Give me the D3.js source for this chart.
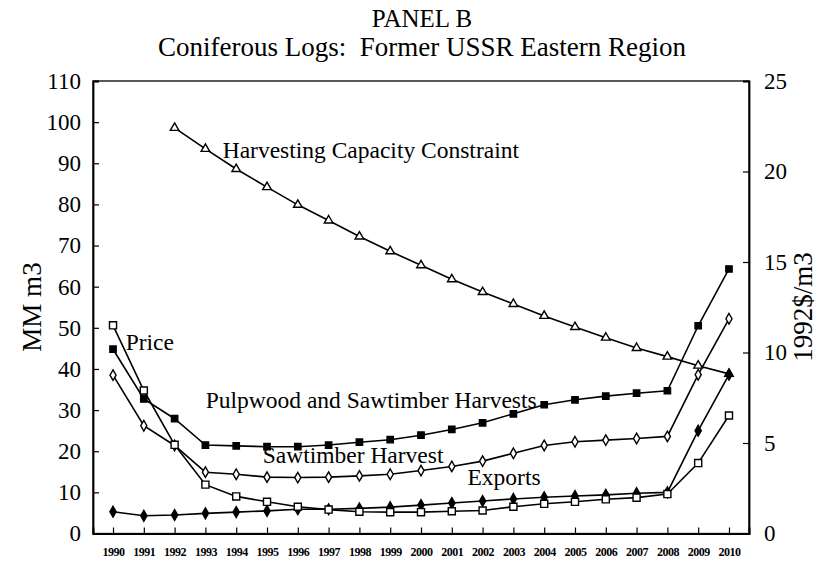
<!DOCTYPE html>
<html>
<head>
<meta charset="utf-8">
<script src="https://cdn.jsdelivr.net/npm/d3@7"></script>
<style>
  body { margin: 0; background: #fff; }
  svg { display: block; }
  .serif { font-family: "Liberation Serif", "Times New Roman", serif; fill: #000; }
  .tick text { font-family: "Liberation Serif", serif; fill: #000; }
  .xaxis .tick text { font-weight: bold; }
</style>
</head>
<body>
<svg id="chart" width="830" height="564"></svg>
<script>
// years on the x axis
var years = d3.range(1990, 2011);

// MM m3 (left axis)
var capacityYears = d3.range(1992, 2011);
var capacity = [98.6, 93.5, 88.6, 84.2, 79.9, 76.1, 72.2, 68.6, 65.2, 61.8,
                58.7, 55.8, 52.9, 50.2, 47.6, 45.1, 43.0, 40.8, 38.8];
var pulpSaw = [44.8, 32.7, 27.9, 21.5, 21.3, 21.1, 21.1, 21.5, 22.2, 22.8, 23.9,
               25.3, 26.9, 29.1, 31.3, 32.5, 33.4, 34.1, 34.7, 50.5, 64.3];
var sawtimber = [38.5, 26.2, 21.4, 14.9, 14.4, 13.7, 13.6, 13.7, 14.0, 14.4, 15.3,
                 16.3, 17.6, 19.5, 21.4, 22.3, 22.7, 23.1, 23.6, 38.6, 52.2];
var exportsMM = [5.3, 4.3, 4.5, 4.9, 5.2, 5.5, 5.9, 5.9, 6.1, 6.4, 6.9,
                 7.4, 7.9, 8.4, 8.8, 9.1, 9.4, 9.8, 10.0, 25.0, 38.6];

// 1992$/m3 (right axis)
var price = [11.5, 7.9, 4.9, 2.7, 2.05, 1.75, 1.48, 1.32, 1.2, 1.18, 1.18,
             1.23, 1.27, 1.48, 1.64, 1.75, 1.89, 1.98, 2.18, 3.89, 6.52];

var leftTicks = d3.range(0, 111, 10);
var rightTicks = [0, 5, 10, 15, 20, 25];

var svg = d3.select('#chart');
var plot = { left: 93, right: 749, top: 81, bottom: 533.5 };

var x = d3.scaleLinear().domain([1989.35, 2010.65]).range([plot.left, plot.right]);
var yL = d3.scaleLinear().domain([0, 110]).range([plot.bottom, plot.top]);
var yR = d3.scaleLinear().domain([0, 25]).range([plot.bottom, plot.top]);

// frame
svg.append('rect')
  .attr('x', plot.left).attr('y', plot.top)
  .attr('width', plot.right - plot.left).attr('height', plot.bottom - plot.top)
  .attr('fill', 'none').attr('stroke', '#000').attr('stroke-width', 1.3);

var axisL = svg.append('g')
  .attr('transform', 'translate(' + plot.left + ',0)')
  .call(d3.axisLeft(yL).tickValues(leftTicks).tickSize(-6).tickPadding(12).tickFormat(d3.format('d')));
var axisR = svg.append('g')
  .attr('transform', 'translate(' + plot.right + ',0)')
  .call(d3.axisRight(yR).tickValues(rightTicks).tickSize(-6).tickPadding(15).tickFormat(d3.format('d')));
var axisB = svg.append('g')
  .classed('xaxis', true)
  .attr('transform', 'translate(0,' + plot.bottom + ')')
  .call(d3.axisBottom(x).tickValues(years).tickSize(-6).tickPadding(14).tickFormat(d3.format('d')));

[axisL, axisR, axisB].forEach(function(g) {
  g.select('.domain').attr('stroke-width', 1.8);
  g.selectAll('.tick line').attr('stroke-width', 1.2);
});
axisL.selectAll('.tick text').attr('font-size', 23);
axisR.selectAll('.tick text').attr('font-size', 23);
axisB.selectAll('.tick text').attr('font-size', 12).attr('letter-spacing', -0.5);

// series
var series = [
  { xs: capacityYears, vals: capacity, y: yL, symbol: d3.symbolTriangle, size: 32, fill: '#fff' },
  { xs: years, vals: pulpSaw, y: yL, symbol: d3.symbolSquare, size: 40, fill: '#000' },
  { xs: years, vals: sawtimber, y: yL, symbol: d3.symbolDiamond, size: 32, fill: '#fff' },
  { xs: years, vals: exportsMM, y: yL, symbol: d3.symbolDiamond, size: 34, fill: '#000' },
  { xs: years, vals: price, y: yR, symbol: d3.symbolSquare, size: 50, fill: '#fff' }
];

series.forEach(function(s) {
  var pts = s.vals.map(function(v, i) { return [s.xs[i], v]; });
  var line = d3.line()
    .x(function(d) { return x(d[0]); })
    .y(function(d) { return s.y(d[1]); });
  svg.append('path')
    .datum(pts)
    .attr('d', line)
    .attr('fill', 'none')
    .attr('stroke', '#000')
    .attr('stroke-width', 1.6);
});

series.forEach(function(s) {
  var pts = s.vals.map(function(v, i) { return [s.xs[i], v]; });
  svg.append('g').selectAll('path')
    .data(pts)
    .enter()
    .append('path')
    .attr('transform', function(d) { return 'translate(' + x(d[0]) + ',' + s.y(d[1]) + ')'; })
    .attr('d', d3.symbol().type(s.symbol).size(s.size))
    .attr('fill', s.fill)
    .attr('stroke', '#000')
    .attr('stroke-width', 1.4);
});

// series labels, placed in data units (year, MM m3)
var labels = [
  { text: 'Harvesting Capacity Constraint', yr: 1993.56, v: 91.4 },
  { text: 'Price', yr: 1990.41, v: 44.6 },
  { text: 'Pulpwood and Sawtimber Harvests', yr: 1993.01, v: 30.5 },
  { text: 'Sawtimber Harvest', yr: 1994.86, v: 17.2 },
  { text: 'Exports', yr: 2001.51, v: 11.8 }
];
svg.append('g').selectAll('text')
  .data(labels)
  .enter()
  .append('text')
  .classed('serif', true)
  .attr('x', function(d) { return x(d.yr); })
  .attr('y', function(d) { return yL(d.v); })
  .attr('font-size', 23.5)
  .text(function(d) { return d.text; });

// titles
svg.append('text').classed('serif', true)
  .attr('x', 422).attr('y', 27).attr('text-anchor', 'middle').attr('font-size', 25)
  .text('PANEL B');
svg.append('text').classed('serif', true)
  .attr('x', 422).attr('y', 56).attr('text-anchor', 'middle').attr('font-size', 27)
  .text('Coniferous Logs:  Former USSR Eastern Region')
  .style('white-space', 'pre');

svg.append('text').classed('serif', true)
  .attr('transform', 'translate(41,307) rotate(-90)')
  .attr('text-anchor', 'middle').attr('font-size', 27)
  .text('MM m3');
svg.append('text').classed('serif', true)
  .attr('transform', 'translate(812,307) rotate(-90)')
  .attr('text-anchor', 'middle').attr('font-size', 27)
  .text('1992$/m3');
</script>
</body>
</html>
